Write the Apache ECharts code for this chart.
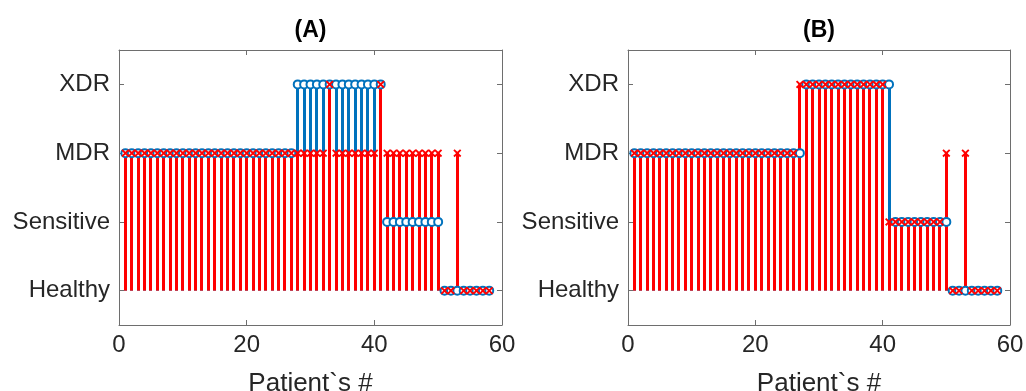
<!DOCTYPE html>
<html>
<head>
<meta charset="utf-8">
<script src="https://cdn.jsdelivr.net/npm/echarts@6/dist/echarts.min.js"></script>
<style>
  html, body { margin: 0; padding: 0; background: #fff; }
  #chart { width: 1026px; height: 391px; }
</style>
</head>
<body>
<div id="chart"></div>
<script>
// states: 0 = Healthy, 1 = Sensitive, 2 = MDR, 3 = XDR
const stateNames = ['Healthy', 'Sensitive', 'MDR', 'XDR']
const xTicks = [0, 20, 40, 60]

// true state per patient (same in both panels), patients 1..58
const trueA = [
  2, 2, 2, 2, 2, 2, 2, 2, 2, 2, 2, 2, 2, 2, 2, 2, 2, 2, 2, 2, 2, 2, 2, 2, 2, 2, 2,
  3, 3, 3, 3, 3, 3, 3, 3, 3, 3, 3, 3, 3, 3,
  1, 1, 1, 1, 1, 1, 1, 1, 1,
  0, 0, 0, 0, 0, 0, 0, 0,
]
const predA = [
  2, 2, 2, 2, 2, 2, 2, 2, 2, 2, 2, 2, 2, 2, 2, 2, 2, 2, 2, 2, 2, 2, 2, 2, 2, 2, 2,
  2, 2, 2, 2, 2, 3, 2, 2, 2, 2, 2, 2, 2, 3,
  2, 2, 2, 2, 2, 2, 2, 2, 2,
  0, 0, 2, 0, 0, 0, 0, 0,
]
const trueB = [
  2, 2, 2, 2, 2, 2, 2, 2, 2, 2, 2, 2, 2, 2, 2, 2, 2, 2, 2, 2, 2, 2, 2, 2, 2, 2, 2,
  3, 3, 3, 3, 3, 3, 3, 3, 3, 3, 3, 3, 3, 3,
  1, 1, 1, 1, 1, 1, 1, 1, 1,
  0, 0, 0, 0, 0, 0, 0, 0,
]
const predB = [
  2, 2, 2, 2, 2, 2, 2, 2, 2, 2, 2, 2, 2, 2, 2, 2, 2, 2, 2, 2, 2, 2, 2, 2, 2, 2, 3,
  3, 3, 3, 3, 3, 3, 3, 3, 3, 3, 3, 3, 3, 1,
  1, 1, 1, 1, 1, 1, 1, 1, 2,
  0, 0, 2, 0, 0, 0, 0, 0,
]

const BLUE = '#0072BD'
const RED = '#FF0000'
const AXIS = '#262626'
const FRAME = '#6e6e6e'
const FONT = '"Liberation Sans", Arial, Helvetica, sans-serif'
// filled "x" marker
const CROSS = 'path://M0,1.6L1.6,0L5,3.4L8.4,0L10,1.6L6.6,5L10,8.4L8.4,10L5,6.6L1.6,10L0,8.4L3.4,5Z'

const toPoints = (vals) => vals.map((v, i) => [i + 1, v])

const chart = echarts.init(document.getElementById('chart'), null, { renderer: 'canvas' })

const grids = [
  { left: 119, top: 50, width: 383, height: 275, outerBoundsMode: 'none', containLabel: false },
  { left: 628, top: 50, width: 382, height: 275, outerBoundsMode: 'none', containLabel: false },
]
const titles = ['(A)', '(B)']

const lineStyle = { color: FRAME, width: 1 }
const tick = { show: true, inside: true, length: 5, lineStyle }

const xAxes = []
const yAxes = []
grids.forEach((_, g) => {
  xAxes.push({
    gridIndex: g, type: 'value', position: 'bottom',
    min: 0, max: 60, interval: 20,
    axisLine: { onZero: false, lineStyle }, axisTick: tick, splitLine: { show: false },
    axisLabel: { color: AXIS, fontSize: 24, fontFamily: FONT, margin: 8,
      customValues: xTicks },
    name: 'Patient`s #', nameLocation: 'middle', nameGap: 46,
    nameTextStyle: { color: AXIS, fontSize: 26, fontFamily: FONT },
  })
  xAxes.push({
    gridIndex: g, type: 'value', position: 'top',
    min: 0, max: 60, interval: 20,
    axisLine: { onZero: false, lineStyle }, axisTick: tick, splitLine: { show: false },
    axisLabel: { show: false },
    name: titles[g], nameLocation: 'middle', nameGap: 8,
    nameTextStyle: { color: '#000', fontSize: 23, fontWeight: 'bold', fontFamily: FONT },
  })
  yAxes.push({
    gridIndex: g, type: 'value', position: 'left',
    min: -0.5, max: 3.5,
    axisLine: { show: true, onZero: false, lineStyle },
    axisTick: { ...tick, customValues: [0, 1, 2, 3] },
    splitLine: { show: false },
    axisLabel: { color: AXIS, fontSize: 24, fontFamily: FONT, margin: 9,
      customValues: [0, 1, 2, 3], formatter: (v) => stateNames[Math.round(v)] },
  })
  yAxes.push({
    gridIndex: g, type: 'value', position: 'right',
    min: -0.5, max: 3.5,
    axisLine: { show: true, onZero: false, lineStyle },
    axisTick: { ...tick, customValues: [0, 1, 2, 3] },
    splitLine: { show: false },
    axisLabel: { show: false },
  })
})

// stem from the baseline (Healthy = 0) up to the value, snapped to whole pixels
function renderStem(color) {
  return (params, api) => {
    const top = api.coord([api.value(0), api.value(1)])
    const base = api.coord([api.value(0), 0])
    const x = Math.round(top[0] - 1.5)
    return {
      type: 'rect',
      shape: { x, y: top[1], width: 3, height: base[1] - top[1] },
      style: { fill: color },
    }
  }
}

function stemSeries(vals, g, color, marker) {
  const xi = g * 2
  const yi = g * 2
  const pts = toPoints(vals)
  const stems = {
    type: 'custom', xAxisIndex: xi, yAxisIndex: yi,
    data: pts.filter((p) => p[1] !== 0),
    renderItem: renderStem(color),
    silent: true,
  }
  const marks = marker === 'o'
    ? {
        type: 'scatter', xAxisIndex: xi, yAxisIndex: yi, data: pts,
        symbol: 'emptyCircle', symbolSize: 8,
        itemStyle: { color, borderColor: color, borderWidth: 2, opacity: 1 },
        silent: true,
      }
    : {
        type: 'scatter', xAxisIndex: xi, yAxisIndex: yi, data: pts,
        symbol: CROSS, symbolSize: 8,
        itemStyle: { color, opacity: 1 },
        silent: true,
      }
  return [stems, marks]
}

chart.setOption({
  animation: false,
  backgroundColor: '#fff',
  grid: grids,
  xAxis: xAxes,
  yAxis: yAxes,
  series: [
    ...stemSeries(trueA, 0, BLUE, 'o'),
    ...stemSeries(predA, 0, RED, 'x'),
    ...stemSeries(trueB, 1, BLUE, 'o'),
    ...stemSeries(predB, 1, RED, 'x'),
  ],
})
</script>
</body>
</html>
